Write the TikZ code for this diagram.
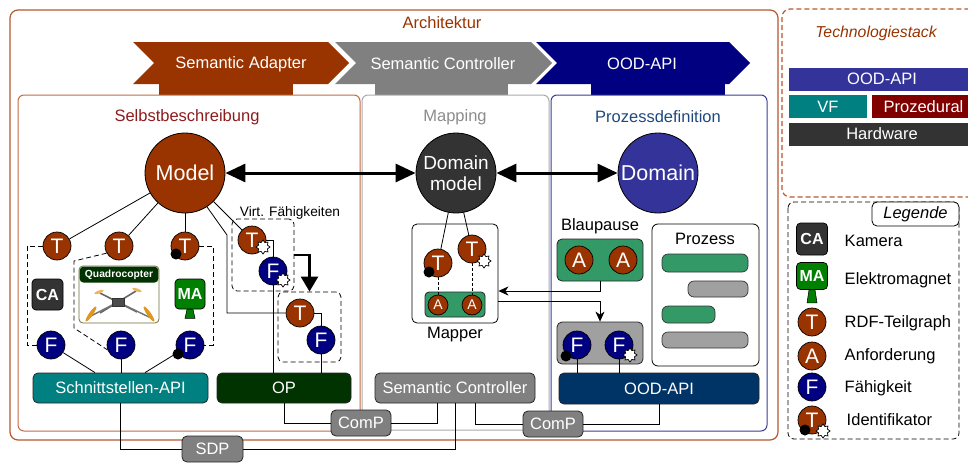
\documentclass[tikz,border=0pt]{standalone}
\usepackage{fontspec}
\setmainfont{Liberation Sans}
\usetikzlibrary{arrows.meta,shapes.geometric}

\definecolor{rust}{RGB}{153,51,0}
\definecolor{archline}{RGB}{183,88,44}
\definecolor{selfline}{RGB}{192,108,68}
\definecolor{selftext}{RGB}{140,28,28}
\definecolor{mapline}{RGB}{170,170,170}
\definecolor{maptext}{RGB}{140,140,140}
\definecolor{procline}{RGB}{60,60,150}
\definecolor{proctext}{RGB}{31,73,125}
\definecolor{fblue}{RGB}{0,0,128}
\definecolor{domblue}{RGB}{51,51,153}
\definecolor{charcoal}{RGB}{51,51,51}
\definecolor{tealapi}{RGB}{0,128,128}
\definecolor{opgreen}{RGB}{0,51,0}
\definecolor{ctrlgray}{RGB}{128,128,128}
\definecolor{oodblue}{RGB}{0,51,102}
\definecolor{leaf}{RGB}{51,153,102}
\definecolor{bargray}{RGB}{160,160,160}
\definecolor{maroonp}{RGB}{128,0,0}
\definecolor{magreen}{RGB}{0,128,0}
\definecolor{quadline}{RGB}{110,110,60}
\definecolor{prop}{RGB}{225,150,30}

\tikzset{
  tcirc/.style={circle, draw=black, line width=0.7pt, fill=rust, text=white,
    minimum size=28pt, inner sep=0pt, font=\fontsize{21}{21}\selectfont},
  fcirc/.style={tcirc, fill=fblue},
  smallacirc/.style={tcirc, minimum size=20pt, font=\fontsize{14}{14}\selectfont},
  bigcirc/.style={circle, draw=black, line width=0.8pt, text=white, minimum size=80pt,
    inner sep=0pt, align=center, font=\fontsize{21.5}{23}\selectfont},
  slotbox/.style={draw=black!85, line width=0.8pt, rounded corners=5pt, text=white,
    minimum height=30pt, inner sep=0pt},
  commbox/.style={slotbox, fill=ctrlgray, minimum width=60pt, minimum height=26pt},
  stackbar/.style={text=white, minimum height=23pt, inner sep=0pt},
  iconbox/.style={draw=black, line width=0.7pt, rounded corners=4pt, text=white,
    inner sep=0pt, font=\bfseries\fontsize{16}{16}\selectfont},
  idstar/.style={star, star points=8, star point ratio=1.45, draw=black, fill=white,
    line width=0.7pt, minimum size=14pt, inner sep=0pt},
  iddot/.style={circle, fill=black, minimum size=11pt, inner sep=0pt},
  grouplink/.style={dashed, dash pattern=on 5pt off 3pt, line width=0.8pt},
  bigarrow/.style={line width=3pt, {Triangle[length=20pt,width=18pt]}-{Triangle[length=20pt,width=18pt]}},
  thinarrow/.style={line width=0.8pt, -{Stealth[length=10pt,width=9pt,inset=3pt]}},
  procbar/.style={draw=black!80, line width=0.7pt, rounded corners=6pt},
}

\begin{document}
\begin{tikzpicture}[x=1pt, y=-1pt, font=\fontsize{16.5}{19}\selectfont, line width=0.8pt]
\useasboundingbox (0,0) rectangle (968,463);
\clip (0,0) rectangle (968,463);

% Architecture frame
\draw[archline, line width=1.2pt, rounded corners=8pt] (10,10) rectangle (778,440);
\node[text=rust] (archtitle) at (442,23) {Architektur};

% Layer chevrons with their tabs
\fill[rust] (133,42) -- (328,42) -- (349,63) -- (328,84) -- (133,84) -- (154,63) -- cycle;
\fill[rust] (159,83) rectangle (293,95);
\fill[ctrlgray] (335,42) -- (531,42) -- (552,63) -- (531,84) -- (335,84) -- (356,63) -- cycle;
\fill[ctrlgray] (375,83) rectangle (508,95);
\fill[fblue] (536,42) -- (729,42) -- (750,63) -- (729,84) -- (536,84) -- (557,63) -- cycle;
\fill[fblue] (591,83) rectangle (725,95);
\node[text=white] (chevadapter) at (241,64) {Semantic Adapter};
\node[text=white] (chevcontrol) at (443,64) {Semantic Controller};
\node[text=white] (chevood) at (642,64) {OOD-API};

% Three areas
\draw[selfline, line width=1pt, rounded corners=6pt] (18,95) rectangle (360,431);
\draw[mapline, line width=1pt, rounded corners=6pt] (362,95) rectangle (549,430);
\draw[procline, line width=1pt, rounded corners=6pt] (551,95) rectangle (767,431);
\node[text=selftext] (selftitle) at (187,117) {Selbstbeschreibung};
\node[text=maptext] (maptitle) at (455,117) {Mapping};
\node[text=proctext] (proctitle) at (658,117) {Prozessdefinition};

% Models
\node[bigcirc, fill=rust] (model) at (185,173) {Model};
\node[bigcirc, fill=charcoal, font=\fontsize{19}{21}\selectfont] (dommodel) at (456,173) {Domain\\model};
\node[bigcirc, fill=domblue] (domain) at (658,173) {Domain};
\draw[bigarrow] (model) -- (dommodel);
\draw[bigarrow] (dommodel) -- (domain);

% Self description: subgraphs and capabilities
\node[tcirc] (ta) at (57,246) {T};
\node[tcirc] (tb) at (119,246) {T};
\node[tcirc] (tc) at (185,246) {T};
\node[iddot] (tcdot) at (176,254) {};
\node[fcirc] (fa) at (51,345) {F};
\node[fcirc] (fb) at (121,345) {F};
\node[fcirc] (fc) at (190,345) {F};
\node[iddot] (fcdot) at (178,354) {};
\draw (model) -- (ta);
\draw (model) -- (tb);
\draw (model) -- (tc);

% Devices
\node[iconbox, fill=charcoal, minimum width=31pt, minimum height=31pt] (ca) at (47.5,294.5) {CA};
\node[iconbox, fill=magreen, minimum width=30pt, minimum height=30pt] (ma) at (190,294) {MA};
\filldraw[fill=magreen, draw=black, line width=0.5pt] ([xshift=-3pt]ma.south) -- ([xshift=3pt]ma.south)
  -- ([xshift=5pt,yshift=-9pt]ma.south) -- ([xshift=-5pt,yshift=-9pt]ma.south) -- cycle;
\node[draw=quadline, fill=white, rounded corners=4pt, minimum width=80pt, minimum height=57pt,
  inner sep=0pt] (quad) at (119,294.5) {};
\fill[opgreen, rounded corners=4pt] ([shift={(1,1)}]quad.north west) rectangle ([shift={(-1,17)}]quad.north east);
\node[text=white, font=\bfseries\fontsize{10.3}{12}\selectfont] (quadtitle) at (119,274.5) {Quadrocopter};
% drone sketch
\draw[black!60, line width=1.6pt] (100,293) -- (137,312) (136,291) -- (100,313);
\draw[black!55, line width=1.4pt] (118,302) -- (89,317) (118,302) -- (151,318);
\filldraw[fill=black!70, draw=black!80, line width=0.5pt] (112,298) rectangle (124,306);
\fill[prop, rotate around={55:(91,314)}] (91,314) ellipse (9pt and 2pt);
\fill[prop, rotate around={-55:(149,314)}] (149,314) ellipse (9pt and 2pt);
\fill[prop!70!white, rotate around={20:(99,292)}] (99,292) ellipse (5pt and 1.5pt);
\fill[prop!70!white, rotate around={-20:(137,290)}] (137,290) ellipse (5pt and 1.5pt);

% Device groups
\draw[grouplink] (ta.west) -- (27,246) -- (27,345) -- (fa.west);
\draw[grouplink] (tb.210) -- (74,261) -- (74,328) -- (fb.200);
\draw[grouplink] (tc.east) -- (213,246) -- (213,345) -- (fc.east);

% Interfaces
\node[slotbox, fill=tealapi, minimum width=175pt] (sapi) at (120.5,388) {Schnittstellen-API};
\node[slotbox, fill=opgreen, minimum width=134pt] (op) at (284,388) {OP};
\draw (fa) -- ([xshift=-25.5pt]sapi.north);
\draw (fb) -- (fb |- sapi.north);
\draw (fc) -- ([xshift=24.5pt]sapi.north);

% Virtual capabilities
\node (virtlabel) at (290,213) {\fontsize{13.7}{15}\selectfont Virt. Fähigkeiten};
\node[draw, grouplink, rounded corners=5pt, minimum width=62pt, minimum height=72pt] (vbox1) at (263,255) {};
\node[draw, grouplink, rounded corners=5pt, minimum width=63pt, minimum height=70pt] (vbox2) at (309.5,327) {};
\node[tcirc] (tv) at (252,240) {T};
\node[fcirc] (fv) at (273,271) {F};
\node[tcirc] (t2) at (300,313) {T};
\node[fcirc] (f2) at (321,340) {F};
\draw (tv.east) -| (fv.north);
\draw (t2.east) -| (f2.north);
\node[idstar] (tvstar) at (263,247) {};
\node[idstar] (fvstar) at (283,280) {};
\coordinate (modelbend) at (227,235);
\draw (model) -- (tv);
\draw (model.-57) -- (modelbend) |- (t2);
\draw[line width=2.5pt, -{Triangle[length=15pt,width=17pt]}] (vbox1.east) -| (vbox2.north);
\draw (fv) -- (fv |- op.north);
\draw (f2) -- (f2 |- op.north);

% Mapper
\node[draw, fill=white, rounded corners=5pt, minimum width=86pt, minimum height=99pt] (mapper) at (455,273.5) {};
\node (mapperlabel) at (455,335) {Mapper};
\node[draw=black!85, fill=leaf, rounded corners=4pt, minimum width=60pt, minimum height=25pt] (mapreq) at (455,304.5) {};
\node[tcirc] (tm1) at (438,263) {T};
\node[tcirc] (tm2) at (472,249) {T};
\node[smallacirc] (am1) at (438,305) {A};
\node[smallacirc] (am2) at (472,305) {A};
\node[iddot] (tm1dot) at (429,272) {};
\node[idstar] (tm2star) at (484,261) {};
\draw (dommodel.-101) -- (tm1);
\draw (dommodel.-79) -- (tm2);
\draw[grouplink, dash pattern=on 3pt off 2pt] (tm1) -- (am1);
\draw[grouplink, dash pattern=on 3pt off 2pt] (tm2) -- (am2);

% Process definition
\node (bplabel) at (600,226) {Blaupause};
\node[draw=black!85, fill=leaf, rounded corners=5pt, minimum width=86pt, minimum height=42pt] (bp) at (600,260) {};
\node[tcirc] (ab1) at (579,260) {A};
\node[tcirc] (ab2) at (623,260) {A};
\node[draw=black!85, fill=bargray, rounded corners=5pt, minimum width=86pt, minimum height=42pt] (fbox) at (600,343) {};
\node[fcirc] (fp1) at (577,345) {F};
\node[fcirc] (fp2) at (619,345) {F};
\node[iddot] (fp1dot) at (566,356) {};
\node[idstar] (fp2star) at (630,355) {};
\draw[thinarrow] (bp.south) |- ([yshift=-17.5pt]mapper.east);
\draw[thinarrow] ([yshift=-27.5pt]mapper.east) -| (fbox.north);

\node[draw, fill=white, rounded corners=6pt, minimum width=107pt, minimum height=142pt] (prozess) at (705.5,295) {};
\node (prozesslabel) at (705,239) {Prozess};
\draw[procbar, fill=leaf] (662,254) rectangle (748,272);
\draw[procbar, fill=bargray] (688,281) rectangle (748,297);
\draw[procbar, fill=leaf] (662,306) rectangle (715,323);
\draw[procbar, fill=bargray] (662,332) rectangle (748,348);

% Controllers and protocols
\node[slotbox, fill=ctrlgray, minimum width=160pt] (sctrl) at (455,388) {Semantic Controller};
\node[slotbox, fill=oodblue, minimum width=200pt, minimum height=31pt] (oodapi) at (659,388.5) {OOD-API};
\draw (fp1) -- (fp1 |- oodapi.north);
\draw (fp2) -- (fp2 |- oodapi.north);
\node[commbox] (comp1) at (361,423) {ComP};
\node[commbox] (comp2) at (553,424) {ComP};
\node[commbox, minimum width=61pt, minimum height=26pt] (sdp) at (212.5,449) {SDP};
\draw (sapi.south) |- (sdp.west);
\draw (sdp.east) -| (sctrl.south);
\draw (op.south) |- (comp1.west);
\draw (comp1.east) -| ([xshift=-18pt]sctrl.south);
\draw ([xshift=20pt]sctrl.south) |- (comp2.west);
\draw (comp2.east) -| (oodapi.south);

% Technology stack
\draw[archline, line width=1.2pt, dashed, dash pattern=on 5pt off 3pt, rounded corners=8pt] (782,9) rectangle (985,197);
\node[text=rust, font=\itshape\fontsize{15.8}{18}\selectfont] (stacktitle) at (876,33) {Technologiestack};
\node[stackbar, fill=domblue, minimum width=186pt] (stackood) at (882,79) {OOD-API};
\node[stackbar, fill=tealapi, minimum width=78pt] (stackvf) at (828,106.5) {VF};
\node[stackbar, fill=maroonp, minimum width=103pt] (stackproz) at (923.5,106.5) {Prozedural};
\node[stackbar, fill=charcoal, minimum width=186pt] (stackhw) at (882,134) {Hardware};

% Legend
\draw[grouplink, rounded corners=6pt] (788,202) rectangle (959,439);
\node[draw, fill=white, rounded corners=5pt, minimum width=87pt, minimum height=24pt, inner sep=0pt,
  font=\itshape\fontsize{16.5}{19}\selectfont] (legtitle) at (915.5,214) {Legende};
\node[iconbox, fill=charcoal, minimum width=31pt, minimum height=32pt] (legca) at (812,239) {CA};
\node[iconbox, fill=magreen, minimum width=31pt, minimum height=27pt] (legma) at (812,276) {MA};
\filldraw[fill=magreen, draw=black, line width=0.5pt] ([xshift=-3pt]legma.south) -- ([xshift=3pt]legma.south)
  -- ([xshift=5pt,yshift=-13pt]legma.south) -- ([xshift=-5pt,yshift=-13pt]legma.south) -- cycle;
\node[tcirc] (legt) at (812,322) {T};
\node[tcirc] (lega) at (812,356) {A};
\node[fcirc] (legf) at (812,387) {F};
\node[tcirc] (legid) at (812,420) {T};
\node[iddot] (legiddot) at (805,430) {};
\node[idstar] (legidstar) at (823,431) {};
\node[anchor=west] (lgca) at (841,241) {Kamera};
\node[anchor=west] (lgma) at (841,280) {Elektromagnet};
\node[anchor=west] (lgt) at (841,323) {RDF-Teilgraph};
\node[anchor=west] (lga) at (841,356) {Anforderung};
\node[anchor=west] (lgf) at (841,388) {Fähigkeit};
\node[anchor=west] (lgid) at (843,420) {Identifikator};
\end{tikzpicture}
\end{document}
